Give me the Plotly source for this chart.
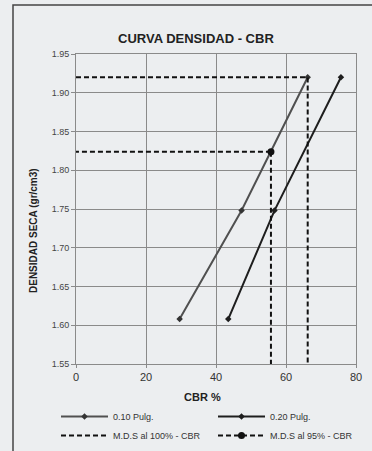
import plotly.graph_objects as go

# ---- data ----
density = [1.608, 1.748, 1.920]
cbr_010 = [29.6, 47.3, 66.2]
cbr_020 = [43.5, 56.7, 75.7]
mds_100 = 1.920
cbr_100 = 66.2
mds_95 = 1.824
cbr_95 = 55.7
y_min, y_max = 1.55, 1.95
x_min, x_max = 0, 80
x_ticks = [0, 20, 40, 60, 80]
y_ticks = [1.55, 1.60, 1.65, 1.70, 1.75, 1.80, 1.85, 1.90, 1.95]

W, H = 372, 451
L, R, T, B = 76, 16, 54, 87
PW, PH = W - L - R, H - T - B

def px(xp):
    return (xp - L) / PW

def py(yp):
    return (H - B - yp) / PH

FONT = "Liberation Sans, Arial, sans-serif"
BG = "#eceef0"
DASH = "5px,3px"

fig = go.Figure()
fig.add_trace(go.Scatter(
    x=cbr_010, y=density, mode="lines+markers", name="0.10 Pulg.",
    line=dict(color="#505050", width=2),
    marker=dict(symbol="diamond", size=5, color="#333333"),
))
fig.add_trace(go.Scatter(
    x=cbr_020, y=density, mode="lines+markers", name="0.20 Pulg.",
    line=dict(color="#1e1e1e", width=2),
    marker=dict(symbol="diamond", size=5, color="#1e1e1e"),
))
fig.add_trace(go.Scatter(
    x=[x_min, cbr_100, cbr_100], y=[mds_100, mds_100, y_min], mode="lines",
    name="M.D.S al 100% - CBR",
    line=dict(color="#111111", width=2, dash=DASH),
))
fig.add_trace(go.Scatter(
    x=[cbr_95, x_min, None, cbr_95, cbr_95],
    y=[mds_95, mds_95, None, mds_95, y_min],
    mode="lines+markers", name="M.D.S al 95% - CBR",
    line=dict(color="#111111", width=2, dash=DASH),
    marker=dict(symbol="circle", size=7,
                color=["#111111", "rgba(0,0,0,0)", "rgba(0,0,0,0)",
                       "rgba(0,0,0,0)", "rgba(0,0,0,0)"]),
    connectgaps=False,
))

fig.update_layout(
    width=W, height=H,
    margin=dict(l=L, r=R, t=T, b=B, autoexpand=False),
    paper_bgcolor=BG, plot_bgcolor=BG,
    font=dict(family=FONT, color="#333333"),
    showlegend=True,
    legend=dict(
        orientation="h", x=px(56), y=py(402), xanchor="left", yanchor="top",
        font=dict(size=9, color="#333333", family=FONT),
        entrywidth=95, entrywidthmode="pixels",
        itemwidth=47, bgcolor="rgba(0,0,0,0)", tracegroupgap=0,
    ),
    xaxis=dict(
        range=[x_min, x_max], tickvals=x_ticks, showgrid=True,
        gridcolor="#8a8a8a", gridwidth=1, zeroline=False,
        showline=True, linecolor="#8a8a8a", linewidth=1, mirror=True,
        ticks="outside", ticklen=3, tickcolor="#8a8a8a",
        tickfont=dict(size=11, color="#333333", family=FONT),
    ),
    yaxis=dict(
        range=[y_min, y_max], tickvals=y_ticks, tickformat=".2f",
        showgrid=True, gridcolor="#8a8a8a", gridwidth=1, zeroline=False,
        showline=True, linecolor="#8a8a8a", linewidth=1, mirror=True,
        ticks="outside", ticklen=4, tickcolor="#8a8a8a",
        tickfont=dict(size=9, color="#444444", family=FONT),
    ),
    annotations=[
        dict(text="<b>CURVA DENSIDAD - CBR</b>", xref="paper", yref="paper",
             x=px(196), y=py(38), showarrow=False, xanchor="center", yanchor="middle",
             font=dict(size=13, color="#222222", family=FONT)),
        dict(text="<b>DENSIDAD SECA (gr/cm3)</b>", xref="paper", yref="paper",
             x=px(33), y=py(231), showarrow=False, textangle=-90,
             xanchor="center", yanchor="middle",
             font=dict(size=10, color="#222222", family=FONT)),
        dict(text="<b>CBR %</b>", xref="paper", yref="paper",
             x=px(202), y=py(397), showarrow=False, xanchor="center", yanchor="middle",
             font=dict(size=11, color="#222222", family=FONT)),
    ],
    shapes=[
        dict(type="rect", xref="paper", yref="paper",
             x0=px(13), x1=px(380), y0=py(460), y1=py(5),
             line=dict(color="#444444", width=1.5), fillcolor="rgba(0,0,0,0)",
             layer="below"),
    ],
)

fig.write_html("out.html")
